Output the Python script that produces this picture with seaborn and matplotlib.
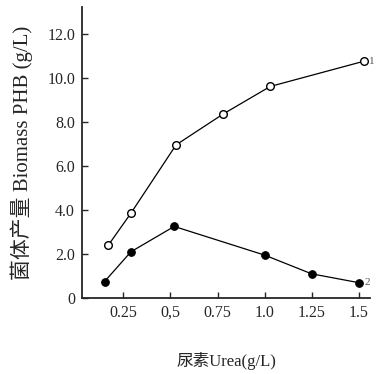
import matplotlib
matplotlib.use("Agg")
import matplotlib.pyplot as plt
import seaborn as sns
import pandas as pd

# 曲线1: 空心圆 (Biomass)
x1 = [0.17, 0.29, 0.53, 0.78, 1.03, 1.53]
y1 = [2.4, 3.85, 6.95, 8.35, 9.6, 10.75]
# 曲线2: 实心圆 (PHB)
x2 = [0.15, 0.29, 0.52, 1.0, 1.25, 1.5]
y2 = [0.75, 2.1, 3.25, 1.95, 1.1, 0.7]

xticks = [0.25, 0.5, 0.75, 1.0, 1.25, 1.5]
xticklabels = ["0.25", "0,5", "0.75", "1.0", "1.25", "1.5"]
yticks = [0, 2, 4, 6, 8, 10, 12]
yticklabels = ["0", "2.0", "4.0", "6.0", "8.0", "10.0", "12.0"]

sns.set_style("ticks")
plt.rcParams["font.family"] = ["Liberation Serif", "Noto Sans CJK SC"]

df1 = pd.DataFrame({"x": x1, "y": y1})
df2 = pd.DataFrame({"x": x2, "y": y2})

fig = plt.figure(figsize=(3.76, 3.74), dpi=100)
ax = fig.add_axes([0.218, 0.203, 0.766, 0.778])

sns.lineplot(data=df1, x="x", y="y", ax=ax, color="black", lw=0.9,
             marker="o", markersize=5.5, markerfacecolor="white",
             markeredgecolor="black", markeredgewidth=1.0)
sns.lineplot(data=df2, x="x", y="y", ax=ax, color="black", lw=0.9,
             marker="o", markersize=5.5, markerfacecolor="black",
             markeredgecolor="black")

ax.text(x1[-1] + 0.025, y1[-1], "1", fontsize=8, color="#555555", va="center")
ax.text(x2[-1] + 0.03, y2[-1], "2", fontsize=8, color="#555555", va="center")

ax.set_xlim(0.03, 1.56)
ax.set_ylim(0, 13.2)
ax.set_xticks(xticks)
ax.set_xticklabels(xticklabels)
ax.set_yticks(yticks)
ax.set_yticklabels(yticklabels)
ax.tick_params(direction="in", length=4, width=1, labelsize=11.5, pad=5)
sns.despine(ax=ax)
for s in ["left", "bottom"]:
    ax.spines[s].set_linewidth(1.3)

ax.set_xlabel("尿素Urea(g/L)", fontsize=12, labelpad=22)
ax.set_ylabel("菌体产量 Biomass PHB (g/L)", fontsize=15, labelpad=10)

fig.savefig("out.png", dpi=100)
